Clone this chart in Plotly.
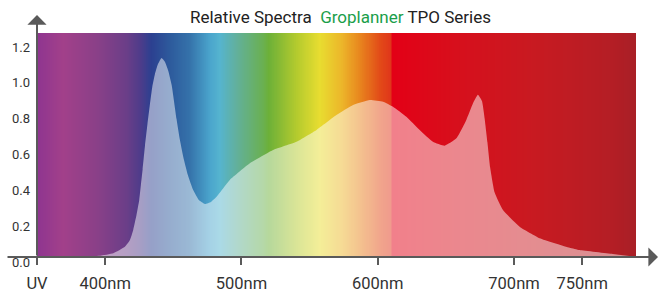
import numpy as np
import plotly.graph_objects as go

# ---- data ----
wavelength_nm = [350, 370, 385, 396, 406, 414.5, 418.2, 420.6, 423, 425, 426.2, 427.5, 429.2,
                 431, 432.8, 434.6, 436.5, 438.7, 441.4, 443.8, 446.3, 448.8, 452.4, 454.8,
                 457.3, 460.7, 464.6, 468.8, 473.2, 477.6, 481.7, 491.5, 506.2, 523.2, 540.4,
                 555.1, 569.7, 581.9, 594.1, 603.9, 611.2, 621, 630.8, 640.5, 649.1,
                 657.7, 665, 669.9, 673.5, 676.5, 678.5, 680.5, 682.5, 685.8, 691.9, 704.1,
                 718.8, 740.8, 748.1, 772.5, 789]
relative_intensity = [0.0, 0.003, 0.005, 0.007, 0.021, 0.057, 0.095, 0.151, 0.234, 0.318,
                      0.40, 0.49, 0.62, 0.74, 0.85, 0.95, 1.02, 1.075, 1.11, 1.09, 1.04,
                      0.96, 0.77, 0.655, 0.560, 0.458, 0.374, 0.318, 0.296, 0.307, 0.336,
                      0.430, 0.523, 0.597, 0.643, 0.709, 0.792, 0.848, 0.876, 0.867, 0.839,
                      0.783, 0.709, 0.643, 0.621, 0.662, 0.765, 0.858, 0.905, 0.87, 0.77,
                      0.64, 0.50, 0.36, 0.262, 0.169, 0.105, 0.052, 0.039, 0.017, 0.002]

# spectrum background colour stops (wavelength, colour)
spectrum_nm = [350, 369, 394, 416, 425.5, 434, 447.5, 462, 476.8, 484, 496.4, 516, 520,
               540, 557.5, 574, 586.8, 602, 609.5, 610.5, 658, 715, 772, 790]
spectrum_col = ['#8e3590', '#a2408a', '#8a4088', '#6a3e88', '#4f3c8a', '#2c4090', '#2d5a9c',
                '#3572aa', '#4aa4cc', '#55b4cf', '#62b09c', '#6ab050', '#6cb038', '#b2ca2e',
                '#e8dd30', '#ecb52a', '#e8861e', '#e24a18', '#e0361a', '#e30016', '#d70f1c',
                '#c81a21', '#b41e25', '#a81f26']

tick_nm = [350, 400, 500, 600, 700, 750]
tick_text = ['UV', '400nm', '500nm', '600nm', '700nm', '750nm']
y_ticks = [0.0, 0.2, 0.4, 0.6, 0.8, 1.0, 1.2]

x_min, x_max = 350, 789.5
y_min, y_max = 0, 1.25

# ---- figure ----
lo, hi = spectrum_nm[0], spectrum_nm[-1]
colorscale = [[(w - lo) / (hi - lo), c] for w, c in zip(spectrum_nm, spectrum_col)]
grid_x = np.arange(350, 791, 0.5)

fig = go.Figure()
fig.add_trace(go.Heatmap(
    x=grid_x, y=[y_min, y_max], z=[grid_x, grid_x],
    colorscale=colorscale, zmin=lo, zmax=hi, showscale=False, hoverinfo='skip'))
fig.add_trace(go.Scatter(
    x=wavelength_nm, y=relative_intensity, mode='lines',
    line=dict(width=0, shape='spline', smoothing=0.4),
    fill='tozeroy', fillcolor='rgba(255,255,255,0.5)', hoverinfo='skip'))

axis_col = '#5a5a5a'
fig.update_layout(
    width=659, height=294,
    margin=dict(l=37, r=23, t=33, b=37, autoexpand=False),
    paper_bgcolor='white', plot_bgcolor='white',
    showlegend=False,
    font=dict(family='Roboto', color='#333333'),
    xaxis=dict(range=[x_min, x_max], showgrid=False, zeroline=False, showline=False,
               automargin=False,
               tickvals=tick_nm, ticktext=tick_text, ticks='outside', ticklen=7,
               tickwidth=2, tickcolor=axis_col, tickfont=dict(size=16.5, color='#333333'),
               ticklabelstandoff=4),
    yaxis=dict(range=[y_min, y_max], showgrid=False, zeroline=False, showline=False,
               automargin=False,
               tickvals=y_ticks, tickformat='.1f', ticks='',
               tickfont=dict(size=13, color='#333333'),
               ticklabelshift=5, ticklabelstandoff=6),
)

# axis lines with arrows
fig.add_annotation(xref='paper', yref='paper', x=1.0384, y=0, ax=-653, ay=0,
                   text='', showarrow=True, arrowhead=1, arrowsize=1.6, arrowwidth=2,
                   arrowcolor=axis_col, standoff=0)
fig.add_annotation(xref='paper', yref='paper', x=0, y=1.08, ax=0, ay=242,
                   text='', showarrow=True, arrowhead=1, arrowsize=1.6, arrowwidth=2,
                   arrowcolor=axis_col, standoff=0)

# title
fig.add_annotation(xref='paper', yref='paper', x=0.5067, y=1 + 16 / 224,
                   xanchor='center', yanchor='middle', showarrow=False,
                   text="Relative Spectra&nbsp;&nbsp;<span style='color:#1a9e4a'>Groplanner</span> TPO Series",
                   font=dict(size=17, family='Roboto', color='#222222'))

fig.write_html("out.html", config={'displayModeBar': False},
               post_script="document.body.style.margin='0';")
